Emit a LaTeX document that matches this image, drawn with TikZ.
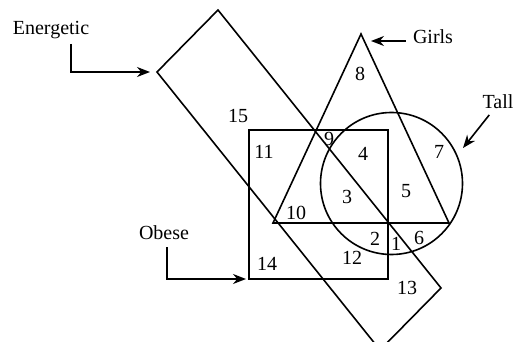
\documentclass[tikz,border=0pt]{standalone}
\usepackage{fontspec}
\setmainfont{Liberation Serif}
\usetikzlibrary{arrows.meta}
\begin{document}
\begin{tikzpicture}[x=1pt,y=-1pt,font=\fontsize{20}{24}\selectfont,
  set/.style={line width=1.6pt,line join=miter},
  num/.style={inner sep=0pt},
  lbl/.style={inner sep=1pt},
  arr/.style={line width=1.6pt,-{Stealth[length=13pt,width=10pt]}}]
\clip (0,0) rectangle (520,342);
\coordinate (eT) at (218,10); \coordinate (eL) at (157,72); \coordinate (eR) at (441,288); \coordinate (eB) at (380,350);
\coordinate (gA) at (361,34); \coordinate (gL) at (273,223); \coordinate (gR) at (449,223);
\coordinate (oTL) at (249,130); \coordinate (oBR) at (388,279); \coordinate (oBL) at (249,279);
\coordinate (tC) at (391.5,183.5);
\draw[set] (eT)--(eR)--(eB)--(eL)--cycle;
\draw[set] (oTL) rectangle (oBR);
\draw[set] (gA)--(gR)--(gL)--cycle;
\draw[set] (tC) circle[radius=71];
\node[num] (n15) at (238,116) {15}; \node[num] (n11) at (264,152) {11}; \node[num] (n9) at (329,139) {9};
\node[num] (n4) at (363,154) {4}; \node[num] (n3) at (347,197) {3}; \node[num] (n10) at (296,213) {10};
\node[num] (n8) at (360,74) {8}; \node[num] (n7) at (439,152) {7}; \node[num] (n5) at (406,191) {5};
\node[num] (n2) at (375,239) {2}; \node[num] (n1) at (396,244) {1}; \node[num] (n6) at (419,238) {6};
\node[num] (n12) at (352,258) {12}; \node[num] (n13) at (407,288) {13}; \node[num] (n14) at (267,264) {14};
\node[lbl] (energetic) at (51,30) {Energetic};
\node[lbl] (girls) at (433,37) {Girls};
\node[lbl] (tall) at (498,102) {Tall};
\node[lbl] (obese) at (164,233) {Obese};
\coordinate (girlsTip) at (371,41); \coordinate (tallTip) at (463,148);
\draw[arr,shorten >=7pt] ([xshift=20pt,yshift=-4pt]energetic.south) |- (eL);
\draw[arr,shorten >=3pt] ([xshift=3pt,yshift=-6pt]obese.south) |- (oBL);
\draw[arr] ([xshift=-6pt,yshift=-4pt]girls.west) -- (girlsTip);
\draw[arr,shorten <=6pt] ([xshift=-5pt]tall.south) -- (tallTip);
\end{tikzpicture}
\end{document}
